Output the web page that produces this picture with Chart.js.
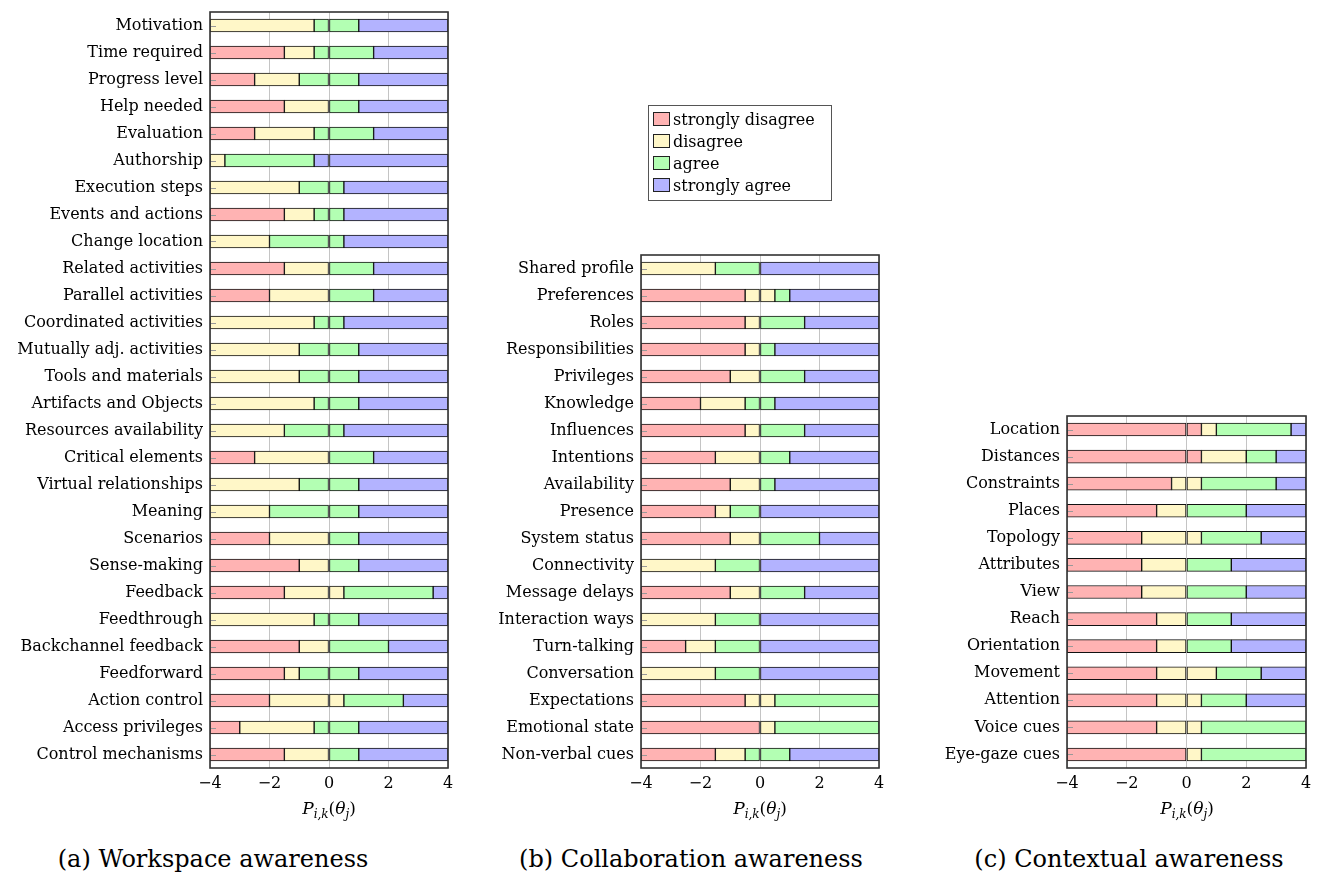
<!DOCTYPE html>
<html>
<head>
<meta charset="utf-8">
<script src="https://cdn.jsdelivr.net/npm/chart.js@4.4.1/dist/chart.umd.min.js"></script>
<style>
  body { margin: 0; background: #fff; }
  #page { position: relative; width: 1320px; height: 877px; font-family: 'DejaVu Serif', serif; color: #000; }
  canvas { position: absolute; top: 0; }
  .axt { position: absolute; top: 798px; font-size: 17px; transform: translateX(-50%); white-space: nowrap; }
  .axt sub { font-size: 12px; }
  .cap { position: absolute; top: 845px; font-size: 24px; transform: translateX(-50%); white-space: nowrap; }
  #legend { position: absolute; left: 648px; top: 105px; width: 174px; border: 1px solid #555; padding: 3px 4px; font-size: 16px; line-height: 22px; }
  #legend .sw { display: inline-block; width: 15px; height: 12px; border: 1px solid #222; margin-right: 3px; vertical-align: -1px; }
</style>
</head>
<body>
<div id="page">
  <canvas id="chartA" width="460" height="830" style="left:0px"></canvas>
  <canvas id="chartB" width="430" height="830" style="left:460px"></canvas>
  <canvas id="chartC" width="430" height="830" style="left:890px"></canvas>
  <div id="legend"></div>
  <div class="axt" style="left:329px"><i>P</i><sub><i>i,k</i></sub>(<i>θ</i><sub><i>j</i></sub>)</div>
  <div class="axt" style="left:760px"><i>P</i><sub><i>i,k</i></sub>(<i>θ</i><sub><i>j</i></sub>)</div>
  <div class="axt" style="left:1187px"><i>P</i><sub><i>i,k</i></sub>(<i>θ</i><sub><i>j</i></sub>)</div>
  <div class="cap" style="left:213px">(a) Workspace awareness</div>
  <div class="cap" style="left:691px">(b) Collaboration awareness</div>
  <div class="cap" style="left:1129px">(c) Contextual awareness</div>
</div>
<script>
// answer categories and colours
const answers = ['strongly disagree', 'disagree', 'agree', 'strongly agree'];
const answerColors = ['#ffb3b3', '#fff7c8', '#b3ffb3', '#b3b3ff'];

// x axis
const xMin = -4;
const xMax = 4;
const xStep = 2;

// (a) workspace awareness - category thresholds
const wsLabels = ['Motivation', 'Time required', 'Progress level', 'Help needed', 'Evaluation', 'Authorship',
  'Execution steps', 'Events and actions', 'Change location', 'Related activities', 'Parallel activities',
  'Coordinated activities', 'Mutually adj. activities', 'Tools and materials', 'Artifacts and Objects',
  'Resources availability', 'Critical elements', 'Virtual relationships', 'Meaning', 'Scenarios',
  'Sense-making', 'Feedback', 'Feedthrough', 'Backchannel feedback', 'Feedforward', 'Action control',
  'Access privileges', 'Control mechanisms'];
const wsT1 = [-4, -1.5, -2.5, -1.5, -2.5, -4, -4, -1.5, -4, -1.5, -2, -4, -4, -4, -4, -4, -2.5, -4, -4, -2, -1, -1.5, -4, -1, -1.5, -2, -3, -1.5];
const wsT2 = [-0.5, -0.5, -1, 0, -0.5, -3.5, -1, -0.5, -2, 0, 0, -0.5, -1, -1, -0.5, -1.5, 0, -1, -2, 0, 0, 0.5, -0.5, 0, -1, 0.5, -0.5, 0];
const wsT3 = [1, 1.5, 1, 1, 1.5, -0.5, 0.5, 0.5, 0.5, 1.5, 1.5, 0.5, 1, 1, 1, 0.5, 1.5, 1, 1, 1, 1, 3.5, 1, 2, 1, 2.5, 1, 1];

// (b) collaboration awareness
const cbLabels = ['Shared profile', 'Preferences', 'Roles', 'Responsibilities', 'Privileges', 'Knowledge',
  'Influences', 'Intentions', 'Availability', 'Presence', 'System status', 'Connectivity', 'Message delays',
  'Interaction ways', 'Turn-talking', 'Conversation', 'Expectations', 'Emotional state', 'Non-verbal cues'];
const cbT1 = [-4, -0.5, -0.5, -0.5, -1, -2, -0.5, -1.5, -1, -1.5, -1, -4, -1, -4, -2.5, -4, -0.5, 0, -1.5];
const cbT2 = [-1.5, 0.5, 0, 0, 0, -0.5, 0, 0, 0, -1, 0, -1.5, 0, -1.5, -1.5, -1.5, 0.5, 0.5, -0.5];
const cbT3 = [0, 1, 1.5, 0.5, 1.5, 0.5, 1.5, 1, 0.5, 0, 2, 0, 1.5, 0, 0, 0, 4, 4, 1];

// (c) contextual awareness
const cxLabels = ['Location', 'Distances', 'Constraints', 'Places', 'Topology', 'Attributes', 'View', 'Reach',
  'Orientation', 'Movement', 'Attention', 'Voice cues', 'Eye-gaze cues'];
const cxT1 = [0.5, 0.5, -0.5, -1, -1.5, -1.5, -1.5, -1, -1, -1, -1, -1, 0];
const cxT2 = [1, 2, 0.5, 0, 0.5, 0, 0, 0, 0, 1, 0.5, 0.5, 0.5];
const cxT3 = [3.5, 3, 3, 2, 2.5, 1.5, 2, 1.5, 1.5, 2.5, 2, 4, 4];

const labelFont = { family: 'DejaVu Serif', size: 16 };

// legend box (html)
document.getElementById('legend').innerHTML = answers.map((a, i) =>
  '<div><span class="sw" style="background:' + answerColors[i] + '"></span>' + a + '</div>').join('');

// plot frame + the small inner tick marks on the y axis
const framePlugin = {
  id: 'frame',
  afterDatasetsDraw(chart) {
    const { ctx, chartArea: a, scales: { y } } = chart;
    ctx.save();
    ctx.strokeStyle = '#999';
    ctx.lineWidth = 1;
    y.ticks.forEach((t, i) => {
      const py = Math.round(y.getPixelForTick(i)) + 0.5;
      ctx.beginPath();
      ctx.moveTo(a.left + 1, py);
      ctx.lineTo(a.left + 6, py);
      ctx.stroke();
    });
    ctx.strokeStyle = '#333';
    ctx.lineWidth = 1.6;
    ctx.strokeRect(a.left, a.top, a.right - a.left, a.bottom - a.top);
    ctx.restore();
  }
};

function makeChart(id, labels, t1, t2, t3, yWidth, padTop, padRight) {
  const datasets = [];
  answers.forEach((name, c) => {
    // each segment is split at 0 (negative part / positive part)
    ['neg', 'pos'].forEach(part => {
      const data = labels.map((_, i) => {
        const bounds = [xMin, t1[i], t2[i], t3[i], xMax];
        const lo = bounds[c], hi = bounds[c + 1];
        const a = part === 'neg' ? lo : Math.max(lo, 0);
        const b = part === 'neg' ? Math.min(hi, 0) : hi;
        return a < b ? [a, b] : null;
      });
      datasets.push({
        label: name,
        data: data,
        backgroundColor: answerColors[c],
        borderColor: '#111',
        borderWidth: 1,
        borderSkipped: false,
        barThickness: 13
      });
    });
  });

  return new Chart(document.getElementById(id), {
    type: 'bar',
    data: { labels: labels, datasets: datasets },
    options: {
      indexAxis: 'y',
      responsive: false,
      animation: false,
      layout: { padding: { top: padTop, right: padRight, left: 0, bottom: 0 } },
      plugins: { legend: { display: false }, tooltip: { enabled: false } },
      scales: {
        x: {
          min: xMin,
          max: xMax,
          grid: { color: '#c4c4c4', drawTicks: false },
          border: { display: false },
          ticks: {
            stepSize: xStep,
            color: '#000',
            font: labelFont,
            padding: 6,
            maxRotation: 0,
            callback: v => v < 0 ? '\u2212' + Math.abs(v) : String(v)
          },
          afterFit(s) { s.height = 62; s.paddingLeft = 0; s.paddingRight = 0; }
        },
        y: {
          stacked: true,
          grid: { display: false, drawTicks: false },
          border: { display: false },
          ticks: { color: '#000', font: labelFont, padding: 7, autoSkip: false },
          afterFit(s) { s.width = yWidth; s.paddingTop = 0; s.paddingBottom = 0; }
        }
      }
    },
    plugins: [framePlugin]
  });
}

makeChart('chartA', wsLabels, wsT1, wsT2, wsT3, 210, 12, 12);
makeChart('chartB', cbLabels, cbT1, cbT2, cbT3, 181, 255, 11);
makeChart('chartC', cxLabels, cxT1, cxT2, cxT3, 177, 416, 14);
</script>
</body>
</html>
